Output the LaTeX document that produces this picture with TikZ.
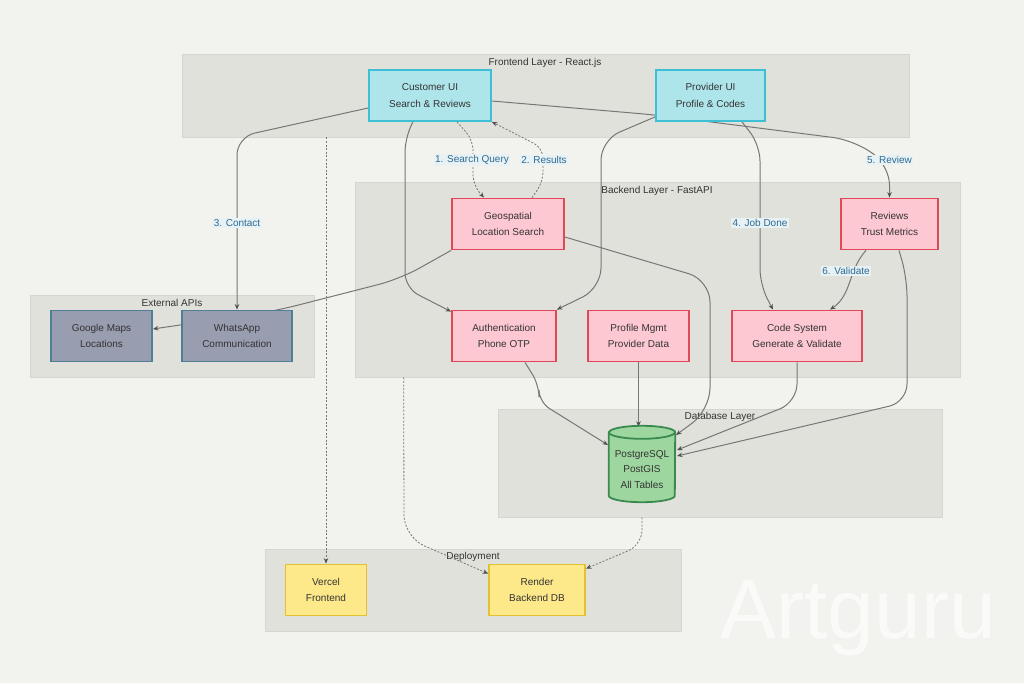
\documentclass[tikz,border=0pt]{standalone}
\usepackage{fontspec}
\setmainfont{Liberation Sans}
\usetikzlibrary{arrows.meta}
\definecolor{bgc}{HTML}{F2F3EF}
\definecolor{grpF}{HTML}{E1E1DB}
\definecolor{grpB}{HTML}{D6D6D0}
\definecolor{txt}{HTML}{333333}
\definecolor{cyanF}{HTML}{AEE5EB}
\definecolor{cyanB}{HTML}{3EBFD6}
\definecolor{pinkF}{HTML}{FDC8D2}
\definecolor{pinkB}{HTML}{E04A58}
\definecolor{slateF}{HTML}{989DAF}
\definecolor{slateB}{HTML}{4E7F97}
\definecolor{greenF}{HTML}{9ED6A0}
\definecolor{greenB}{HTML}{3A8A50}
\definecolor{yelF}{HTML}{FDE98A}
\definecolor{yelB}{HTML}{E4C22F}
\definecolor{edgec}{HTML}{767676}
\definecolor{arrc}{HTML}{505050}
\definecolor{lblc}{HTML}{2C6A94}
\definecolor{lblbg}{HTML}{E8F2F4}
\begin{document}
\begin{tikzpicture}[x=1pt,y=-1pt,
  nodebox/.style={draw, line width=1.8pt, minimum height=51pt, align=center, text=txt, inner sep=2pt, font=\fontsize{10}{16.5}\selectfont},
  cyanbox/.style={nodebox, fill=cyanF, draw=cyanB},
  pinkbox/.style={nodebox, fill=pinkF, draw=pinkB},
  slatebox/.style={nodebox, fill=slateF, draw=slateB},
  yelbox/.style={nodebox, fill=yelF, draw=yelB},
  grp/.style={fill=grpF, draw=grpB, line width=0.6pt, inner sep=0pt},
  grplbl/.style={text=txt, inner sep=1pt, font=\fontsize{10}{12}\selectfont},
  conn/.style={draw=edgec, line width=1pt, rounded corners=18pt, -{Stealth[length=5.5pt,width=4.5pt,color=arrc]}},
  dotconn/.style={conn, line width=0.8pt, dash pattern=on 2pt off 1.6pt},
  lbl/.style={fill=lblbg, text=lblc, inner sep=1.5pt, font=\fontsize{10}{12}\selectfont},
  cylstyle/.style={fill=greenF, draw=greenB, line width=1.8pt},
]
\useasboundingbox (0,0) rectangle (1024,683);
\fill[bgc] (0,0) rectangle (1024,683);

% groups
\node[grp, minimum width=727pt, minimum height=83pt] (fe) at (545.5,95.5) {};
\node[grp, minimum width=605pt, minimum height=195pt] (be) at (657.5,279.5) {};
\node[grp, minimum width=284pt, minimum height=82pt] (ext) at (172,336) {};
\node[grp, minimum width=444pt, minimum height=108pt] (dbl) at (720,463) {};
\node[grp, minimum width=416pt, minimum height=82pt] (dep) at (473,590) {};
\node[grplbl] (fel) at (545,63) {Frontend Layer - React.js};
\node[grplbl] (bel) at (657,191) {Backend Layer - FastAPI};
\node[grplbl] (extl) at (172,303) {External APIs};
\node[grplbl] (dbll) at (720,417) {Database Layer};
\node[grplbl] (depl) at (473,557) {Deployment};

% node positions (drawn again after connectors)
\node[cyanbox, minimum width=122pt] (cust) at (430,95.5) {Customer UI\\Search \& Reviews};
\node[cyanbox, minimum width=109pt] (prov) at (710.5,95.5) {Provider UI\\Profile \& Codes};
\node[pinkbox, minimum width=112pt] (geo) at (508,224) {Geospatial\\Location Search};
\node[pinkbox, minimum width=97pt] (rev) at (889.5,224) {Reviews\\Trust Metrics};
\node[pinkbox, minimum width=104pt] (auth) at (504,336) {Authentication\\Phone OTP};
\node[pinkbox, minimum width=101pt] (prof) at (638.5,336) {Profile Mgmt\\Provider Data};
\node[pinkbox, minimum width=130pt] (code) at (797,336) {Code System\\Generate \& Validate};
\node[slatebox, minimum width=101pt] (google) at (101.5,336) {Google Maps\\Locations};
\node[slatebox, minimum width=110pt] (whats) at (237,336) {WhatsApp\\Communication};
\node[yelbox, minimum width=81pt] (vercel) at (326,590) {Vercel\\Frontend};
\node[yelbox, minimum width=96pt] (render) at (537,590) {Render\\Backend DB};
\node[minimum width=66pt, minimum height=76pt, inner sep=0pt] (db) at (642,464) {};

% connectors
\path[dotconn, rounded corners=10pt] ([shift={(27,0)}]cust.south) -- (473,140) -- (473,185) -- ([shift={(-24,0)}]geo.north);
\path[dotconn, rounded corners=10pt] ([shift={(24,0)}]geo.north) -- (543,182) -- (543,148) -- (cust.south east);
\path[conn] ([shift={(0,12.5)}]cust.west) -- (237,137) -- (whats.north);
\path[conn, rounded corners=15pt] ([shift={(-17,0)}]cust.south) -- (405,137) -- (405,288) -- ([shift={(0,2)}]auth.north west);
\path[conn, rounded corners=20pt] ([shift={(0,-5)}]prov.south west) -- (601,140) -- (601,288) -- (auth.north east);
\path[conn, rounded corners=20pt] ([shift={(0,5.5)}]cust.east) -- (656,115) -- (853,140) -- (889.5,165) -- (rev.north);
\path[conn, rounded corners=16pt] ([shift={(31.5,0)}]prov.south) -- (760,145) -- (760,285) -- ([shift={(-24,0)}]code.north);
\path[conn] ([shift={(-23.5,0)}]rev.south) .. controls (848,270) and (852,295) .. ([shift={(33,0)}]code.north);
\path[conn, rounded corners=22pt] (geo.south west) -- (400,279) -- (275,311) -- ([shift={(0,-7)}]google.east);
\path[conn, rounded corners=22pt] ([shift={(0,13)}]geo.east) -- (710,280) -- (710,410) -- ([shift={(34,-29)}]db.center);
\path[conn, rounded corners=12pt] ([shift={(21,0)}]auth.south) -- (539,385) -- (539,402) -- ([shift={(-34,-19)}]db.center);
\path[conn, rounded corners=0pt] (prof.south) -- ([shift={(0,1)}]prof.south |- db.north);
\path[conn, rounded corners=18pt] (code.south) -- (797,402) -- ([shift={(35,-14)}]db.center);
\path[conn, rounded corners=18pt] ([shift={(9.5,0)}]rev.south) -- (907,278) -- (907,402) -- ([shift={(35,-8)}]db.center);
\path[dotconn, rounded corners=0pt] (vercel.north |- fe.south) -- (vercel.north);
\path[dotconn, rounded corners=22pt] ([shift={(49,0)}]be.south west) -- (404,537) -- ([shift={(0,10)}]render.north west);
\path[dotconn, rounded corners=15pt] (db.center |- dbl.south) -- (642,545) -- ([shift={(0,5)}]render.north east);

% boxes above connectors
\node[cyanbox, minimum width=122pt] at (cust) {Customer UI\\Search \& Reviews};
\node[cyanbox, minimum width=109pt] at (prov) {Provider UI\\Profile \& Codes};
\node[pinkbox, minimum width=112pt] at (geo) {Geospatial\\Location Search};
\node[pinkbox, minimum width=97pt] at (rev) {Reviews\\Trust Metrics};
\node[pinkbox, minimum width=104pt] at (auth) {Authentication\\Phone OTP};
\node[pinkbox, minimum width=130pt] at (code) {Code System\\Generate \& Validate};
\node[slatebox, minimum width=110pt] at (whats) {WhatsApp\\Communication};

% database cylinder
\path[cylstyle] ([shift={(0,6.5)}]db.north west) -- ([shift={(0,-6.5)}]db.south west)
   arc[start angle=180, end angle=360, x radius=33pt, y radius=6.5pt]
   -- ([shift={(0,6.5)}]db.north east)
   arc[start angle=0, end angle=180, x radius=33pt, y radius=6.5pt] -- cycle;
\draw[greenB, line width=1.8pt] ([shift={(0,6.5)}]db.north west)
   arc[start angle=180, end angle=360, x radius=33pt, y radius=6.5pt];
\node[text=txt, align=center, font=\fontsize{10}{15.5}\selectfont] (dbt) at (642,469.5) {PostgreSQL\\PostGIS\\All Tables};

% labels
\node[lbl] (l1) at (472,160) {1. Search Query};
\node[lbl] (l2) at (544,160) {2. Results};
\node[lbl] (l3) at (237,223) {3. Contact};
\node[lbl] (l4) at (760,223) {4. Job Done};
\node[lbl] (l5) at (889.5,160) {5. Review};
\node[lbl] (l6) at (846,271) {6. Validate};

% watermark
\node[text=white, opacity=0.65, font=\fontsize{84}{84}\selectfont, inner sep=0pt] (wm) at (858,618) {Artguru};
\end{tikzpicture}
\end{document}
